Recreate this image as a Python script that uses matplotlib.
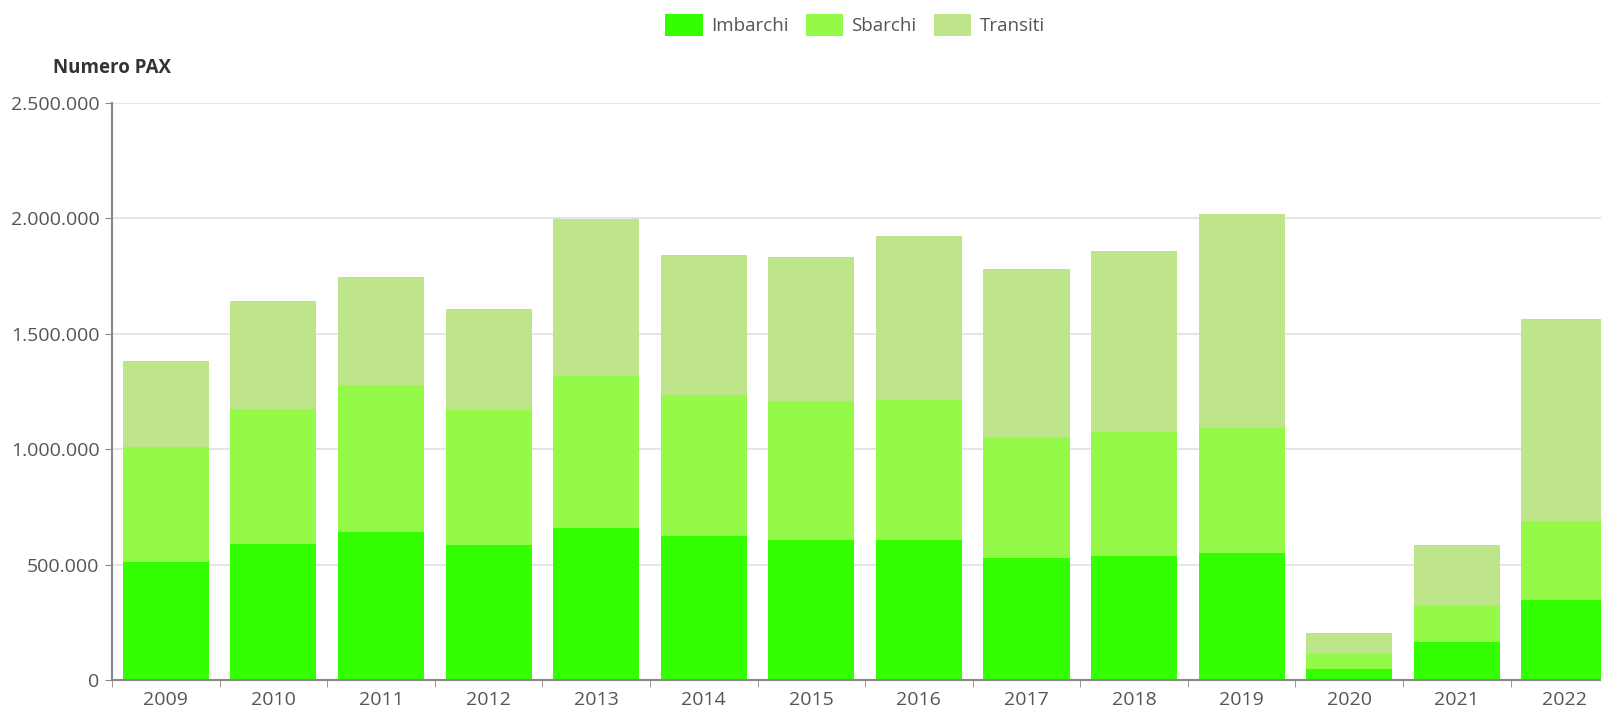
import numpy as np
import matplotlib
matplotlib.use("Agg")
import matplotlib.pyplot as plt
from matplotlib.ticker import FuncFormatter
from matplotlib.patches import FancyBboxPatch, Rectangle
from matplotlib.legend_handler import HandlerPatch

anni = ["2009", "2010", "2011", "2012", "2013", "2014", "2015",
        "2016", "2017", "2018", "2019", "2020", "2021", "2022"]
imbarchi = [509000, 588000, 642000, 584000, 659000, 624000, 606000,
            606000, 527000, 535000, 549000, 49000, 164000, 345000]
sbarchi = [500000, 585000, 637000, 584000, 660000, 611000, 602000,
           606000, 526000, 540000, 544000, 62000, 159000, 345000]
transiti = [372000, 469000, 469000, 438000, 677000, 606000, 624000,
            713000, 726000, 783000, 925000, 93000, 261000, 876000]

col_imb = "#33ff00"
col_sb = "#95f94a"
col_tr = "#bfe58a"
grigio = "#555555"

plt.rcParams["font.family"] = ["Open Sans", "DejaVu Sans"]

fig = plt.figure(figsize=(16.01, 7.15), dpi=100)
ax = fig.add_axes([0.07, 0.049, 0.93, 0.807])

x = np.arange(len(anni))
w = 0.8
ax.bar(x, imbarchi, w, color=col_imb, label="Imbarchi", zorder=2)
ax.bar(x, sbarchi, w, bottom=imbarchi, color=col_sb, label="Sbarchi", zorder=2)
bott = np.array(imbarchi) + np.array(sbarchi)
ax.bar(x, transiti, w, bottom=bott, color=col_tr, label="Transiti", zorder=2)

ax.set_yticks(np.arange(0, 2500001, 500000))
ax.yaxis.set_major_formatter(FuncFormatter(lambda v, p: f"{int(v):,}".replace(",", ".")))
ax.set_xticks(x)
ax.set_xticklabels(anni)
ax.set_xticks(np.arange(-0.5, 13.0, 1), minor=True)
# limiti dopo i tick, altrimenti set_xticks li allarga
ax.set_ylim(0, 2500000)
ax.set_xlim(-0.5, 13.34)
ax.tick_params(axis="x", which="major", length=0, pad=8, labelsize=14, labelcolor=grigio)
ax.tick_params(axis="x", which="minor", length=5, color="#888888", direction="out")
ax.tick_params(axis="y", length=5, color="#888888", labelsize=14, labelcolor=grigio, pad=4)

ax.grid(axis="y", color="#e0e0e0", linewidth=1.2, zorder=0)
for s in ["top", "right"]:
    ax.spines[s].set_visible(False)
ax.spines["left"].set_color("#888888")
ax.spines["left"].set_linewidth(1.5)
ax.spines["bottom"].set_color("#888888")
ax.spines["bottom"].set_linewidth(1.5)

fig.text(0.033, 0.905, "Numero PAX", fontsize=13.5, fontweight="bold",
         color="#333333", va="center")


def rounded(legend, orig, xdescent, ydescent, width, height, fontsize):
    return FancyBboxPatch((-xdescent, -ydescent), width, height,
                          boxstyle="round,pad=0,rounding_size=4")


fig.legend(loc="center", bbox_to_anchor=(0.534, 0.965), ncol=3, frameon=False,
           fontsize=13.5, labelcolor=grigio, handlelength=2.0, handleheight=1.5,
           handletextpad=0.45, columnspacing=0.9,
           handler_map={Rectangle: HandlerPatch(patch_func=rounded)})

fig.savefig("out.png", dpi=100)
